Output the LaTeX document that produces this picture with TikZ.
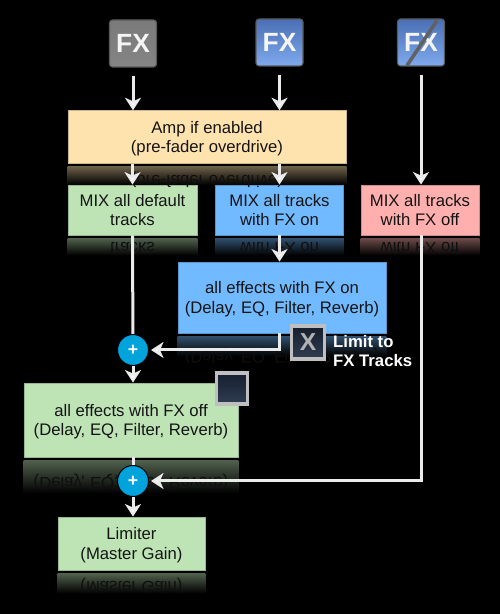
\documentclass[tikz,border=0pt]{standalone}
\usepackage{fontspec}
\setmainfont{Liberation Sans}
\usetikzlibrary{arrows.meta}
\definecolor{ampfill}{HTML}{FFE3AE}
\definecolor{greenfill}{HTML}{BEE4B6}
\definecolor{bluefill}{HTML}{72BAFF}
\definecolor{pinkfill}{HTML}{FFB0AE}
\definecolor{plusfill}{HTML}{00A3DC}
\definecolor{fxtop}{HTML}{4A6FB4}
\definecolor{fxbottom}{HTML}{7FA9EE}
\definecolor{togglefill}{HTML}{1E2C42}
\begin{document}
\begin{tikzpicture}[
        box/.style={rectangle, draw=#1!80!black, fill=#1, line width=0.5pt, align=center, text=black!92, text depth=0pt, font=\fontsize{9.5}{11.3}\selectfont},
        fxicon/.style={rectangle, rounded corners=0.06cm, draw=black!65, line width=0.6pt, minimum size=0.94cm, inner sep=0pt, text=white!92!gray, font=\fontsize{15}{15}\selectfont\bfseries},
        toggle/.style={rectangle, draw=black!25, line width=0.07cm, top color=togglefill!70!black, bottom color=togglefill!92!white, inner sep=0pt, text=black!30, font=\fontsize{14}{14}\selectfont\bfseries},
        plus/.style={circle, fill=plusfill, draw=black, line width=0.02cm, minimum size=0.62cm, inner sep=0pt, text=white, font=\fontsize{10}{10}\selectfont\bfseries},
        link/.style={draw=white!92!black, line width=0.06cm},
        flow/.style={link, -{Stealth[length=0.25cm, width=0.32cm, inset=0.07cm, fill=white]}},
        mirror/.style={yscale=-1, transform shape, text=black!94, font=\fontsize{9.5}{11.3}\selectfont}
    ]
        \fill[black] (0, 0) rectangle (10, 12.28);
        \useasboundingbox (0, 0) rectangle (10, 12.28);

        % Source icons
        \node[fxicon, top color=black!52, bottom color=black!48] (fxgrey) at (2.66, 11.41) {FX};
        \node[fxicon, top color=fxtop, bottom color=fxbottom] (fxon) at (5.59, 11.43) {FX};
        \node[fxicon, top color=fxtop, bottom color=fxbottom] (fxoff) at (8.42, 11.43) {FX};
        \draw[black!62, line width=0.07cm] ([shift={(-0.16, -0.04)}]fxoff.north east) -- ([shift={(0.2, 0.02)}]fxoff.south west);

        % Boxes
        \node[box=ampfill, minimum width=5.56cm, minimum height=1.05cm] (amp) at (4.14, 9.54) {Amp if enabled\\(pre-fader overdrive)};
        \node[box=greenfill, minimum width=2.58cm, minimum height=1cm] (mixdefault) at (2.65, 8.08) {MIX all default\\tracks};
        \node[box=bluefill, minimum width=2.56cm, minimum height=1cm] (mixon) at (5.59, 8.08) {MIX all tracks\\with FX on};
        \node[box=pinkfill, minimum width=2.36cm, minimum height=1cm] (mixoff) at (8.4, 8.08) {MIX all tracks\\with FX off};
        \node[box=bluefill, minimum width=4.16cm, minimum height=1.42cm] (allon) at (5.64, 6.33) {all effects with FX on\\(Delay, EQ, Filter, Reverb)};
        \node[box=greenfill, minimum width=4.28cm, minimum height=1.48cm] (alloff) at (2.62, 3.88) {all effects with FX off\\(Delay, EQ, Filter, Reverb)};
        \node[box=greenfill, minimum width=2.94cm, minimum height=1.06cm] (limiter) at (2.63, 1.41) {Limiter\\(Master Gain)};

        % Reflections under the boxes
        \foreach \boxname/\boxfill/\boxdepth/\gap/\mirrortext in {
            amp/ampfill/0.42/0.32/{(pre-fader overdrive)},
            mixdefault/greenfill/0.4/0.26/{tracks},
            mixon/bluefill/0.4/0.26/{with FX on},
            mixoff/pinkfill/0.4/0.26/{with FX off},
            allon/bluefill/0.46/0.44/{(Delay, EQ, Filter, Reverb)},
            alloff/greenfill/0.72/0.48/{(Delay, EQ, Filter, Reverb)},
            limiter/greenfill/0.46/0.3/{(Master Gain)}} {
            \shade[top color=\boxfill!42!black, bottom color=black] ([yshift=-0.06cm]\boxname.south west) rectangle ([yshift=-\boxdepth cm]\boxname.south east);
            \node[mirror] (\boxname mirror) at ([yshift=-\gap cm]\boxname.south) {\mirrortext};
        }

        % Sums and toggles
        \node[plus] (plusmix) at (2.66, 5.28) {+};
        \node[plus] (plusout) at (2.66, 2.66) {+};
        \node[toggle, minimum size=0.66cm] (toggleon) at (6.16, 5.43) {X};
        \node[toggle, minimum size=0.62cm] (toggleoff) at (4.64, 4.51) {};
        \node[align=left, anchor=west, text=white, font=\fontsize{9.5}{11.3}\selectfont\bfseries] (limitlabel) at (6.54, 5.26) {Limit to\\FX Tracks};

        % Arrows
        \draw[flow, shorten <=0.16cm] (fxgrey) -- (fxgrey |- amp.north);
        \draw[flow, shorten <=0.16cm] (fxon) -- (fxon |- amp.north);
        \draw[flow, shorten <=0.16cm] (fxoff) -- (fxoff |- mixoff.north);
        \draw[flow] (mixdefault |- amp.south) -- (mixdefault.north);
        \draw[flow] (mixon |- amp.south) -- (mixon.north);
        \draw[flow] (mixon.south) -- (mixon |- allon.north);
        \draw[link] (mixdefault.south) -- (plusmix);
        \draw[flow, shorten >=0.04cm] (mixon |- allon.south) |- (plusmix);
        \draw[flow] (plusmix) -- (plusmix |- alloff.north);
        \draw[link] (plusout |- alloff.south) -- (plusout);
        \draw[flow, shorten >=0.04cm] (fxoff |- mixoff.south) |- (plusout);
        \draw[flow] (plusout) -- (plusout |- limiter.north);
    \end{tikzpicture}
\end{document}
